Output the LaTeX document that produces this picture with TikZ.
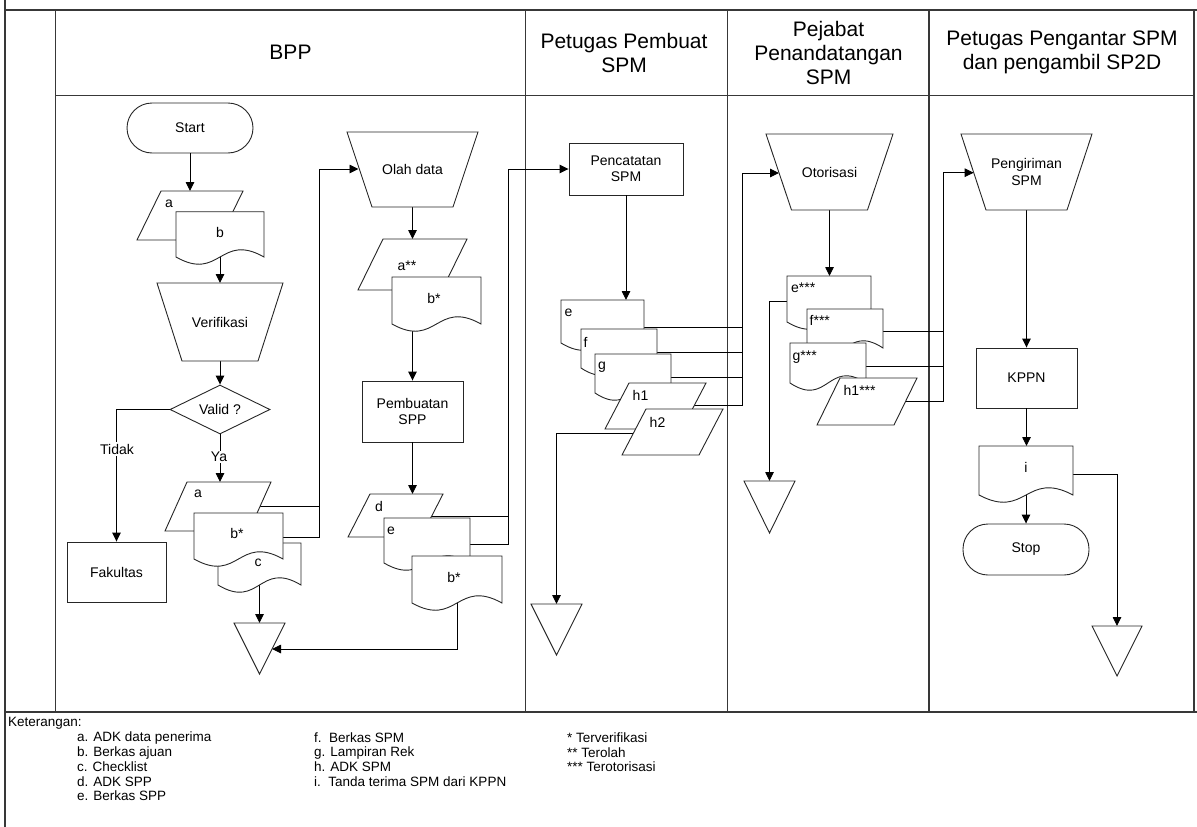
\documentclass[tikz,border=0pt]{standalone}
\usepackage{fontspec}
\setmainfont{Liberation Sans}
\usetikzlibrary{arrows.meta,shapes.geometric,calc}
\newcommand\docsh[4]{\draw[shp] (#1,#2) -- (#3,#2) -- (#3,#4) .. controls ({(#1+#3)/2},{#4-25}) and ({(#1+#3)/2},{#4+25}) .. (#1,#4) -- cycle;}
\newcommand\parash[5]{\draw[shp] (#1,#2) -- (#3,#2) -- ({#3-#5},#4) -- ({#1-#5},#4) -- cycle;}
\newcommand\manop[5]{\draw[shp] (#1,#2) -- (#3,#2) -- ({#3-#5},#4) -- ({#1+#5},#4) -- cycle;}
\newcommand\trish[4]{\draw[shp] (#1,#2) -- (#3,#2) -- ({(#1+#3)/2},#4) -- cycle;}
\tikzset{
 shp/.style={draw=black!85, line width=0.9pt, fill=white},
 lane/.style={draw=black!78, line width=1.4pt},
 con/.style={draw=black, line width=0.9pt},
 arr/.style={con, -{Triangle[length=9pt,width=8.5pt]}},
 txt/.style={font=\fontsize{14}{16.5}\selectfont, inner sep=0pt, align=center},
 lt/.style={txt, anchor=west},
 htxt/.style={font=\fontsize{21}{24}\selectfont, align=center, inner sep=0pt},
 ltxt/.style={font=\fontsize{13.5}{14.5}\selectfont, anchor=west, inner sep=0pt},
 lbl/.style={txt, fill=white, inner sep=1.5pt},
 term/.style={shp, txt, rounded corners=25pt, minimum width=126pt, minimum height=50pt},
 proc/.style={shp, txt, minimum width=100pt, minimum height=60pt},
}
\begin{document}
\begin{tikzpicture}[x=1pt,y=-1pt]
\useasboundingbox (0,0) rectangle (1197,827);
% ---------- frame and lanes ----------
\draw[lane] (5,0) -- (5,827);
\draw[lane] (5,10) -- (1197,10);
\draw[lane] (55.7,10) -- (55.7,712);
\draw[lane] (55.7,95.5) -- (1194,95.5);
\foreach \x in {525.5,727.5,929,1194} \draw[lane] (\x,10) -- (\x,712);
\draw[lane] (5,712) -- (1197,712);
\node[htxt] (hBPP) at (290.5,52.5) {BPP};
\node[htxt] (hPS) at (624,52.5) {Petugas Pembuat\\SPM};
\node[htxt] (hPJ) at (828.5,53) {Pejabat\\Penandatangan\\SPM};
\node[htxt] (hPP) at (1062,52.5) {Petugas Pengantar SPM\\dan pengambil SP2D};
% ---------- node shapes ----------
\node[term] (start) at (190,128) {Start};
\node[shp, txt, diamond, aspect=2, minimum width=100pt, minimum height=49pt] (valid) at (220,409.5) {Valid ?};
\node[proc, minimum width=99pt] (fak) at (116.5,572) {Fakultas};
\node[proc, minimum width=101pt, minimum height=61pt] (pspp) at (412.5,411.5) {Pembuatan\\SPP};
\node[proc, minimum width=114pt, minimum height=52pt] (pcat) at (626,169) {Pencatatan\\SPM};
\node[proc, minimum width=101pt] (kppn) at (1026.5,378) {KPPN};
\node[term, minimum height=51pt] (stop) at (1026,549.5) {Stop};
% ---------- connector end points ----------
\coordinate (a1top) at (190,191);
\coordinate (b1bot) at (220,252);
\coordinate (verT) at (220,283);
\coordinate (verB) at (220,355);
\coordinate (a2top) at (220,482);
\coordinate (a2r) at (252,506);
\coordinate (j1) at (319,506);
\coordinate (b2r) at (278,537);
\coordinate (olahL) at (358.5,169);
\coordinate (olahB) at (412.5,200);
\coordinate (a3top) at (412.5,239);
\coordinate (b3bot) at (412.5,325);
\coordinate (dtop) at (412.5,494);
\coordinate (dr) at (425,516);
\coordinate (j2) at (508,516);
\coordinate (e2r) at (465,544);
\coordinate (b4bot) at (457,598);
\coordinate (t1R) at (272,649);
\coordinate (cbot) at (259.5,580);
\coordinate (t1top) at (259.5,623);
\coordinate (e3top) at (626,300);
\coordinate (e3r) at (640,327);
\coordinate (f3r) at (652,352);
\coordinate (g3r) at (666,377);
\coordinate (h1r) at (688,405);
\coordinate (j3e) at (742,327);
\coordinate (j3f) at (742,352);
\coordinate (j3g) at (742,377);
\coordinate (j3h) at (742,405);
\coordinate (otoL) at (779,173);
\coordinate (h2l) at (640,433);
\coordinate (t2top) at (556.5,604);
\coordinate (otoB) at (829.5,205);
\coordinate (e4top) at (829.5,276);
\coordinate (e4l) at (792,301);
\coordinate (t3top) at (769.5,481);
\coordinate (f4r) at (878,331.7);
\coordinate (j4f) at (943,331.7);
\coordinate (g4r) at (861,366.7);
\coordinate (j4g) at (943,366.7);
\coordinate (h4r) at (900,401.7);
\coordinate (j4h) at (943,401.7);
\coordinate (pengL) at (973.7,172.7);
\coordinate (pengB) at (1026.5,205);
\coordinate (itop) at (1026.5,446);
\coordinate (ibot) at (1026,490);
\coordinate (ir) at (1068,474);
\coordinate (t4top) at (1117,626);
% ---------- connectors ----------
\draw[arr] (start.south) -- (a1top);
\draw[arr] (b1bot) -- (verT);
\draw[arr] (verB) -- (valid.north);
\draw[arr] (valid.west) -| (fak.north);
\draw[arr] (valid.south) -- (a2top);
\draw[con] (a2r) -- (j1);
\draw[con] (b2r) -| (j1);
\draw[arr] (j1) |- (olahL);
\draw[arr] (olahB) -- (a3top);
\draw[arr] (b3bot) -- (pspp.north);
\draw[arr] (pspp.south) -- (dtop);
\draw[con] (dr) -- (j2);
\draw[con] (e2r) -| (j2);
\draw[arr] (j2) |- (pcat.west);
\draw[arr] (b4bot) |- (t1R);
\draw[arr] (cbot) -- (t1top);
\draw[arr] (pcat.south) -- (e3top);
\draw[con] (e3r) -- (j3e);
\draw[con] (f3r) -- (j3f);
\draw[con] (g3r) -- (j3g);
\draw[arr] (h1r) -- (j3h) |- (otoL);
\draw[arr] (h2l) -| (t2top);
\draw[arr] (otoB) -- (e4top);
\draw[arr] (e4l) -| (t3top);
\draw[con] (f4r) -- (j4f);
\draw[con] (g4r) -- (j4g);
\draw[arr] (h4r) -- (j4h) |- (pengL);
\draw[arr] (pengB) -- (kppn.north);
\draw[arr] (kppn.south) -- (itop);
\draw[arr] (ibot) -- (stop.north);
\draw[arr] (ir) -| (t4top);
\node[lbl] (tidak) at (117,449) {Tidak};
\node[lbl] (ya) at (219,457) {Ya};
% ---------- BPP drawn shapes ----------
\parash{161}{191}{243}{240}{24}
\node[txt] (la1) at (169,204) {a};
\docsh{176}{211.7}{264}{257}
\node[txt] (lb1) at (220,232) {b};
\manop{157}{283}{283}{361}{25}
\node[txt] (lver) at (220,322) {Verifikasi};
\parash{187}{482}{271}{531}{22}
\node[txt] (la2) at (198,494) {a};
\docsh{218}{543}{301}{585}
\node[txt] (lc) at (258,563) {c};
\docsh{194}{513}{283}{559}
\node[txt] (lb2) at (237,533) {b*};
\trish{234}{623}{285}{674}
\manop{347}{132}{478}{207}{25}
\node[txt] (lolah) at (412.5,169.5) {Olah data};
\parash{383}{239}{467}{290}{25}
\node[txt] (la3) at (407,266) {a**};
\docsh{392}{277}{481}{324}
\node[txt] (lb3) at (434,298) {b*};
\parash{370}{494}{443}{537}{22}
\node[txt] (ld) at (379,506) {d};
\docsh{384}{518}{470}{563}
\node[lt] (le2) at (387,531) {e};
\docsh{412}{556}{502}{603}
\node[txt] (lb4) at (454,577) {b*};
% ---------- Petugas Pembuat SPM ----------
\docsh{561}{300}{644}{343}
\node[lt] (le3) at (564.5,313) {e};
\docsh{581}{329}{657}{368}
\node[lt] (lf3) at (583.5,342) {f};
\docsh{595}{354}{671}{393}
\node[lt] (lg3) at (598,367) {g};
\parash{629}{383}{706}{429}{24}
\node[txt] (lh1) at (640.5,395) {h1};
\parash{646}{409}{723}{455}{24}
\node[txt] (lh2) at (657.5,422) {h2};
\trish{531}{604}{582}{655}
% ---------- Pejabat Penandatangan SPM ----------
\manop{766}{134}{893}{210}{25.5}
\node[txt] (loto) at (829.5,172) {Otorisasi};
\docsh{787}{276}{871}{322}
\node[lt] (le4) at (791,288) {e***};
\docsh{807}{309}{883}{348}
\node[lt] (lf4) at (809.5,320) {f***};
\docsh{790}{343}{866}{383}
\node[lt] (lg4) at (792.5,357) {g***};
\parash{840}{378}{917}{425}{23}
\node[lt] (lh4) at (843.5,390) {h1***};
\trish{744}{481}{795}{533}
% ---------- Petugas Pengantar ----------
\manop{961}{134}{1092}{210}{25}
\node[txt] (lpeng) at (1026.5,172) {Pengiriman\\SPM};
\docsh{979}{446}{1073}{495}
\node[txt] (li) at (1026,467) {i};
\trish{1092}{626}{1142}{676}
% ---------- legend ----------
\node[ltxt] (ket) at (8,723) {Keterangan:};
\node[ltxt] (k1) at (77,738) {a. ADK data penerima};
\node[ltxt] (k2) at (77,753) {b. Berkas ajuan};
\node[ltxt] (k3) at (77,767) {c. Checklist};
\node[ltxt] (k4) at (77,782) {d. ADK SPP};
\node[ltxt] (k5) at (77,796) {e. Berkas SPP};
\node[ltxt] (k6) at (314,738) {f.\ \ Berkas SPM};
\node[ltxt] (k7) at (314,753) {g. Lampiran Rek};
\node[ltxt] (k8) at (314,767) {h. ADK SPM};
\node[ltxt] (k9) at (314,782) {i.\ \ Tanda terima SPM dari KPPN};
\node[ltxt] (s1) at (567,738) {* Terverifikasi};
\node[ltxt] (s2) at (567,753) {** Terolah};
\node[ltxt] (s3) at (567,767) {*** Terotorisasi};
\end{tikzpicture}
\end{document}
